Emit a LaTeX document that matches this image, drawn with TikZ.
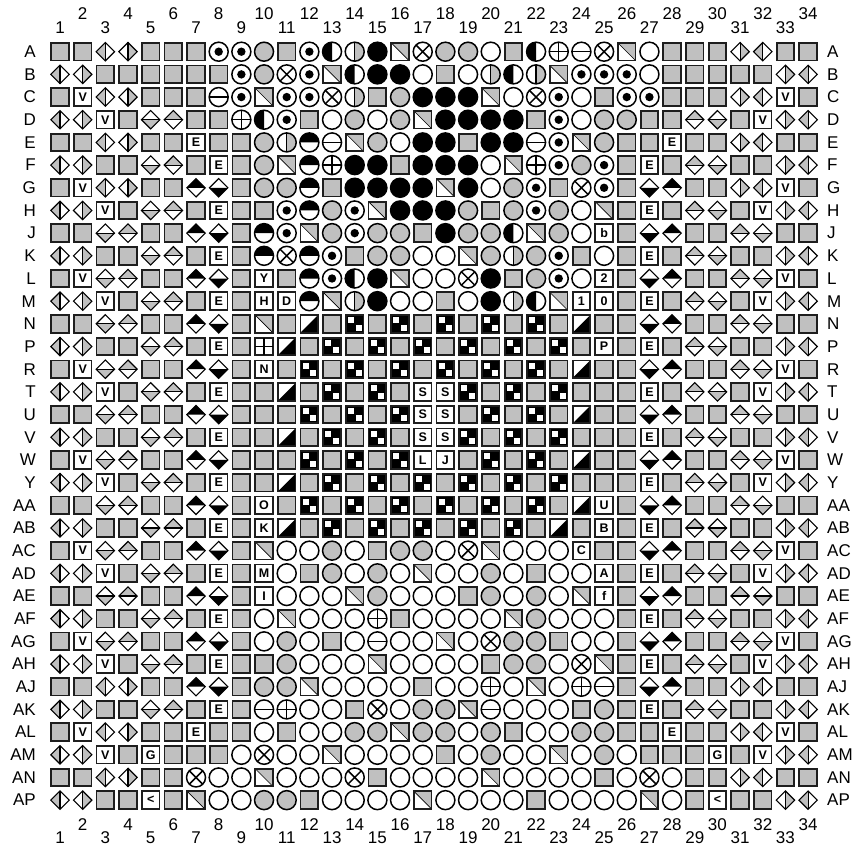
\documentclass[tikz,border=0pt]{standalone}
\usepackage{fontspec}
\setmainfont{Liberation Sans}
\definecolor{pg}{RGB}{192,192,192}
\definecolor{edge}{RGB}{30,30,30}
\tikzset{
  sqr/.style={draw=edge, line width=1.8pt},
  cir/.style={draw=black, line width=1.5pt},
  dia/.style={draw=black, line width=1.1pt},
  lbl/.style={font=\fontsize{17}{17}\selectfont, inner sep=0pt},
  boxtxt/.style={font=\fontsize{12.5}{12.5}\selectfont\bfseries, inner sep=0pt},
}
% squares
\def\pinq{\filldraw[sqr, fill=pg] (-8.8,-8.8) rectangle (8.8,8.8);}
\def\pinds{\fill[white] (-8.8,-8.8) rectangle (8.8,8.8);
  \fill[pg] (-8.8,8.8) -- (8.8,8.8) -- (8.8,-8.8) -- cycle;
  \draw[line width=0.6pt] (-8.8,8.8) -- (8.8,-8.8);
  \draw[sqr] (-8.8,-8.8) rectangle (8.8,8.8);}
\def\pinbs{\fill[white] (-8.8,-8.8) rectangle (8.8,8.8);
  \fill[black] (-8.8,-8.8) -- (8.8,-8.8) -- (8.8,8.8) -- cycle;
  \draw[sqr] (-8.8,-8.8) rectangle (8.8,8.8);}
\def\pinck{\fill[black] (-8.8,-8.8) rectangle (8.8,8.8);
  \fill[white] (-6.6,0.6) rectangle (-0.6,6.6);
  \fill[white] (0.9,-6.9) rectangle (6.9,-0.9);
  \draw[sqr] (-8.8,-8.8) rectangle (8.8,8.8);}
\def\pinps{\filldraw[sqr, fill=white] (-8.8,-8.8) rectangle (8.8,8.8);
  \draw[line width=1.3pt] (-8.8,0) -- (8.8,0) (0,-8.8) -- (0,8.8);}
\def\mkL#1{\expandafter\def\csname pinL#1\endcsname{%
  \filldraw[sqr, fill=white] (-8.8,-8.8) rectangle (8.8,8.8);
  \node[boxtxt] at (0,0) {#1};}}
\mkL V \mkL E \mkL Y \mkL H \mkL D \mkL N \mkL O \mkL K \mkL M \mkL I
\mkL G \mkL b \mkL 2 \mkL 1 \mkL 0 \mkL P \mkL U \mkL B \mkL C \mkL A
\mkL f \mkL S \mkL L \mkL J \mkL <
% circles
\def\pinw{\filldraw[cir, fill=white] (0,0) circle (9.5);}
\def\ping{\filldraw[cir, fill=pg] (0,0) circle (9.5);}
\def\pink{\filldraw[cir, fill=black] (0,0) circle (9.5);}
\def\pint{\filldraw[cir, fill=white] (0,0) circle (9.5); \fill (0,0) circle (4.2);}
\def\pinx{\filldraw[cir, fill=white] (0,0) circle (9.5);
  \draw[line width=1.5pt] (-6.7,-6.7) -- (6.7,6.7) (-6.7,6.7) -- (6.7,-6.7);}
\def\pinp{\filldraw[cir, fill=white] (0,0) circle (9.5);
  \draw[line width=1.5pt] (-9.5,0) -- (9.5,0) (0,-9.5) -- (0,9.5);}
\def\pinm{\filldraw[cir, fill=white] (0,0) circle (9.5);
  \draw[line width=1.5pt] (-9.5,0) -- (9.5,0);}
\def\pinhl{\fill[white] (0,0) circle (9.5);
  \fill[black] (0,9.5) arc[start angle=90, end angle=270, radius=9.5] -- cycle;
  \draw[cir] (0,0) circle (9.5);}
\def\pinht{\fill[white] (0,0) circle (9.5);
  \fill[black] (9.5,0) arc[start angle=0, end angle=180, radius=9.5] -- cycle;
  \draw[cir] (0,0) circle (9.5);}
\def\pinvs{\fill[white] (0,0) circle (9.5);
  \fill[pg] (0,9.5) arc[start angle=90, end angle=-90, radius=9.5] -- cycle;
  \draw[line width=1.3pt] (0,9.5) -- (0,-9.5);
  \draw[cir] (0,0) circle (9.5);}
% diamonds
\def\dpath{(0,9.2) -- (9.2,0) -- (0,-9.2) -- (-9.2,0) -- cycle}
\def\pindL{\fill[white] \dpath; \fill[pg] (0,9.2) -- (-9.2,0) -- (0,-9.2) -- cycle;
  \draw[dia] \dpath; \draw[dia] (0,9.2) -- (0,-9.2);}
\def\pindR{\fill[white] \dpath; \fill[pg] (0,9.2) -- (9.2,0) -- (0,-9.2) -- cycle;
  \draw[dia] \dpath; \draw[dia] (0,9.2) -- (0,-9.2);}
\def\pindT{\fill[white] \dpath; \fill[pg] (-9.2,0) -- (0,9.2) -- (9.2,0) -- cycle;
  \draw[dia] \dpath; \draw[dia] (-9.2,0) -- (9.2,0);}
\def\pindB{\fill[white] \dpath; \fill[pg] (-9.2,0) -- (0,-9.2) -- (9.2,0) -- cycle;
  \draw[dia] \dpath; \draw[dia] (-9.2,0) -- (9.2,0);}
\def\pinbT{\fill[white] \dpath; \fill[black] (-9.2,0) -- (0,9.2) -- (9.2,0) -- cycle;
  \draw[dia] \dpath;}
\def\pinbB{\fill[white] \dpath; \fill[black] (-9.2,0) -- (0,-9.2) -- (9.2,0) -- cycle;
  \draw[dia] \dpath;}
\newcommand\pinrow[3]{%
  \pgfmathsetmacro\ry{-(51.7+(#1-1)*22.68)}
  \node[lbl,anchor=east] (rl#2) at (36,\ry) {#2};
  \node[lbl,anchor=west] (rr#2) at (827,\ry) {#2};
  \foreach \t [count=\c] in {#3} {
    \pgfmathsetmacro\cx{60+(\c-1)*22.67}
    \begin{scope}[shift={(\cx,\ry)}]
      \csname pin\t\endcsname
    \end{scope}
  }
}
\begin{document}
\begin{tikzpicture}[x=1pt,y=1pt]
\useasboundingbox (0,0) rectangle (854,-848);
\foreach \c in {1,...,34}{
  \pgfmathsetmacro\cx{60+(\c-1)*22.67}
  \ifodd\c\relax
    \node[lbl] (ct\c) at (\cx,-28) {\c}; \node[lbl] (cb\c) at (\cx,-838) {\c};
  \else
    \node[lbl] (ct\c) at (\cx,-14) {\c}; \node[lbl] (cb\c) at (\cx,-825) {\c};
  \fi
}
\pinrow{1}{A}{q,q,dL,dR,q,q,q,t,t,g,q,t,hl,vs,k,ds,x,g,g,w,q,hl,p,m,x,ds,w,q,q,q,dR,dL,q,q}
\pinrow{2}{B}{dL,dR,q,q,q,q,q,q,t,g,x,t,ds,hl,k,k,w,q,w,vs,hl,vs,ds,t,t,t,w,q,q,q,q,q,dR,dL}
\pinrow{3}{C}{q,LV,dL,dR,q,q,q,m,t,ds,t,t,x,vs,q,g,k,k,k,ds,w,x,t,w,q,t,t,q,q,q,dR,dL,LV,q}
\pinrow{4}{D}{dL,dR,LV,q,dB,dT,q,q,p,hl,t,q,w,g,w,g,ds,k,k,k,k,q,t,w,g,g,q,q,dT,dB,q,LV,dR,dL}
\pinrow{5}{E}{q,q,dL,dR,q,q,LE,q,q,g,vs,ht,m,ds,g,w,k,k,q,k,k,m,t,ds,g,q,q,LE,q,q,dR,dL,q,q}
\pinrow{6}{F}{dL,dR,q,q,dB,dT,q,LE,q,g,ds,ht,p,k,k,q,k,k,k,w,ds,p,t,g,t,q,LE,q,dT,dB,q,q,dR,dL}
\pinrow{7}{G}{q,LV,dL,dR,q,q,bT,bB,q,g,g,ht,q,k,k,k,k,ds,k,w,g,t,q,x,t,q,bB,bT,q,q,dR,dL,LV,q}
\pinrow{8}{H}{dL,dR,LV,q,dB,dT,q,LE,q,q,t,ht,g,t,ds,k,k,k,g,q,g,t,g,w,ds,q,LE,q,dT,dB,q,LV,dR,dL}
\pinrow{9}{J}{q,q,dB,dT,q,q,bT,bB,q,ht,t,ds,g,t,g,g,q,k,g,g,hl,ds,g,w,Lb,q,bB,bT,q,q,dT,dB,q,q}
\pinrow{10}{K}{dL,dR,q,q,dB,dT,q,LE,q,ht,x,ht,t,q,g,g,w,w,ds,g,vs,g,t,q,w,q,LE,q,dT,dB,q,q,dR,dL}
\pinrow{11}{L}{q,LV,dB,dT,q,q,bT,bB,q,LY,q,ht,t,hl,k,ds,w,w,x,k,q,g,t,w,L2,q,bB,bT,q,q,dT,dB,LV,q}
\pinrow{12}{M}{dL,dR,LV,q,dB,dT,q,LE,q,LH,LD,ht,ds,vs,k,w,w,q,w,k,vs,hl,ds,L1,L0,q,LE,q,dT,dB,q,LV,dR,dL}
\pinrow{13}{N}{q,q,dB,dT,q,q,bT,bB,q,ds,q,bs,q,ck,q,ck,q,ck,q,ck,q,ck,q,bs,q,q,bB,bT,q,q,dT,dB,q,q}
\pinrow{14}{P}{dL,dR,q,q,dB,dT,q,LE,q,ps,bs,q,ck,q,ck,q,ck,q,ck,q,ck,q,ck,q,LP,q,LE,q,dT,dB,q,q,dR,dL}
\pinrow{15}{R}{q,LV,dB,dT,q,q,bT,bB,q,LN,q,ck,q,ck,q,ck,q,ck,q,ck,q,ck,q,bs,q,q,bB,bT,q,q,dT,dB,LV,q}
\pinrow{16}{T}{dL,dR,LV,q,dB,dT,q,LE,q,q,bs,q,ck,q,ck,q,LS,LS,ck,q,ck,q,ck,q,q,q,LE,q,dT,dB,q,LV,dR,dL}
\pinrow{17}{U}{q,q,dB,dT,q,q,bT,bB,q,q,q,ck,q,ck,q,ck,LS,LS,q,ck,q,ck,q,bs,q,q,bB,bT,q,q,dT,dB,q,q}
\pinrow{18}{V}{dL,dR,q,q,dB,dT,q,LE,q,q,bs,q,ck,q,ck,q,LS,LS,ck,q,ck,q,ck,q,q,q,LE,q,dT,dB,q,q,dR,dL}
\pinrow{19}{W}{q,LV,dB,dT,q,q,bT,bB,q,q,q,ck,q,ck,q,ck,LL,LJ,q,ck,q,ck,q,bs,q,q,bB,bT,q,q,dT,dB,LV,q}
\pinrow{20}{Y}{dL,dR,LV,q,dB,dT,q,LE,q,q,bs,q,ck,q,ck,q,ck,q,ck,q,ck,q,ck,q,q,q,LE,q,dT,dB,q,LV,dR,dL}
\pinrow{21}{AA}{q,q,dB,dT,q,q,bT,bB,q,LO,q,ck,q,ck,q,ck,q,ck,q,ck,q,ck,q,bs,LU,q,bB,bT,q,q,dT,dB,q,q}
\pinrow{22}{AB}{dL,dR,q,q,dB,dT,q,LE,q,LK,bs,q,ck,q,ck,q,ck,q,ck,q,ck,q,bs,q,LB,q,LE,q,dT,dB,q,q,dR,dL}
\pinrow{23}{AC}{q,LV,dB,dT,q,q,bT,bB,q,ds,w,w,g,w,q,g,g,w,x,ds,w,w,w,LC,q,q,bB,bT,q,q,dT,dB,LV,q}
\pinrow{24}{AD}{dL,dR,LV,q,dB,dT,q,LE,q,LM,w,q,g,w,g,w,ds,w,w,g,w,q,w,w,LA,q,LE,q,dT,dB,q,LV,dR,dL}
\pinrow{25}{AE}{q,q,dB,dT,q,q,bT,bB,q,LI,w,w,w,ds,g,w,w,w,q,g,w,g,w,ds,Lf,q,bB,bT,q,q,dT,dB,q,q}
\pinrow{26}{AF}{dL,dR,q,q,dB,dT,q,LE,q,w,ds,w,w,w,p,q,w,w,w,w,ds,g,w,w,w,q,LE,q,dT,dB,q,q,dR,dL}
\pinrow{27}{AG}{q,LV,dB,dT,q,q,bT,bB,q,w,g,w,q,w,m,w,w,ds,w,x,g,g,q,w,w,q,bB,bT,q,q,dT,dB,LV,q}
\pinrow{28}{AH}{dL,dR,LV,q,dB,dT,q,LE,q,q,g,w,w,w,ds,w,w,w,w,q,g,g,w,x,ds,q,LE,q,dT,dB,q,LV,dR,dL}
\pinrow{29}{AJ}{q,q,dL,dR,q,q,bT,bB,q,g,g,ds,w,w,w,w,q,w,w,p,w,ds,w,p,m,q,bB,bT,q,q,dR,dL,q,q}
\pinrow{30}{AK}{dL,dR,q,q,dB,dT,q,LE,q,m,p,w,w,q,x,w,g,g,ds,m,w,w,w,q,g,q,LE,q,dT,dB,q,q,dR,dL}
\pinrow{31}{AL}{q,LV,dL,dR,q,q,LE,q,q,w,q,w,w,g,g,ds,g,g,w,g,q,w,w,g,g,q,q,LE,q,q,dR,dL,LV,q}
\pinrow{32}{AM}{dL,dR,LV,q,LG,q,q,q,w,x,w,w,ds,w,w,w,w,q,w,g,w,w,ds,w,g,w,q,q,q,LG,q,LV,dR,dL}
\pinrow{33}{AN}{q,q,dL,dR,q,q,x,w,w,ds,w,w,w,x,q,w,w,w,w,ds,w,w,w,w,q,w,x,w,q,q,dR,dL,q,q}
\pinrow{34}{AP}{dL,dR,q,q,L<,q,ds,w,w,g,g,q,w,w,w,w,ds,w,w,w,w,q,w,w,w,w,ds,w,q,L<,q,q,dR,dL}
\end{tikzpicture}
\end{document}
